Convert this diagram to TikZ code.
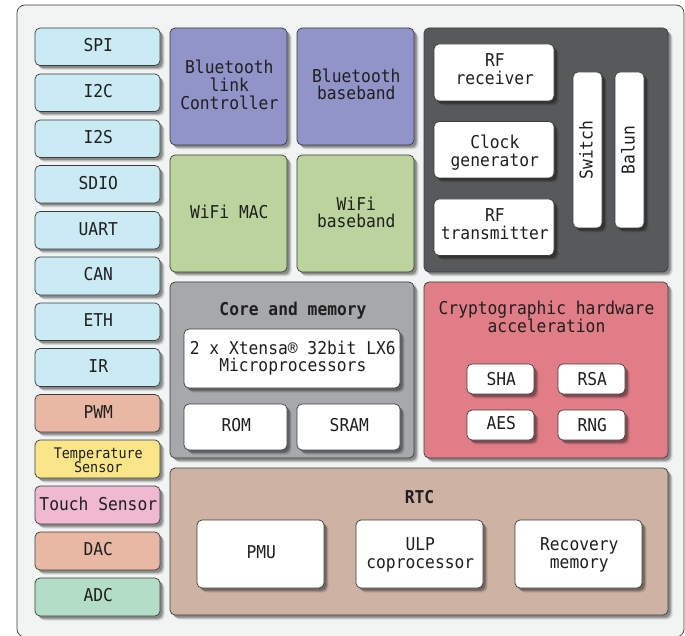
\documentclass[tikz,border=0pt]{standalone}
\usepackage{fontspec}
\setmainfont[FakeStretch=0.92]{DejaVu Sans Mono}
\usetikzlibrary{shadows}
\definecolor{bgc}{HTML}{F2F4F3}
\definecolor{linec}{HTML}{3A3C3C}
\definecolor{cif}{HTML}{CAEAF4}
\definecolor{cbt}{HTML}{9194C8}
\definecolor{cwifi}{HTML}{BBD39C}
\definecolor{cdark}{HTML}{58595B}
\definecolor{ccore}{HTML}{A6A8AB}
\definecolor{ccrypto}{HTML}{E07D87}
\definecolor{crtc}{HTML}{CEB3A5}
\definecolor{cpwm}{HTML}{E9B8A4}
\definecolor{ctemp}{HTML}{FAE588}
\definecolor{ctouch}{HTML}{F0B9D2}
\definecolor{cadc}{HTML}{B3DDC5}
\newcommand{\mainsize}{\fontsize{17.7}{17.7}\selectfont}
\newcommand{\smallsize}{\fontsize{14.6}{14.2}\selectfont}
\tikzset{
  x=1pt,y=-1pt,
  blk/.style={draw=linec,line width=0.7pt,rounded corners=5pt,inner sep=0pt,
    drop shadow={shadow xshift=4.5pt,shadow yshift=-4.5pt,fill=black,opacity=0.10},
    drop shadow={shadow xshift=3.5pt,shadow yshift=-3.5pt,fill=black,opacity=0.15},
    drop shadow={shadow xshift=2.5pt,shadow yshift=-2.5pt,fill=black,opacity=0.25}},
  lbl/.style={inner sep=0pt,align=center,font=\mainsize,text=black!88},
  ttl/.style={lbl,font=\mainsize\bfseries},
  w/.style={fill=white},
}
% \bx[text y offset, px downward]{name}{x0}{y0}{x1}{y1}{style}{text}
\newcommand{\bx}[8][-1.5]{%
  \pgfmathsetmacro{\bw}{#5-(#3)}\pgfmathsetmacro{\bh}{#6-(#4)}%
  \node[blk,#7,minimum width=\bw pt,minimum height=\bh pt] (#2) at ({(#3+#5)/2},{(#4+#6)/2}) {};
  \node[lbl] (#2t) at ([xshift=0.8pt,yshift=-1pt*(#1)]#2.center) {#8};}
\begin{document}
\begin{tikzpicture}
\useasboundingbox (0,0) rectangle (685,636);
\node[draw=linec,line width=0.7pt,fill=bgc,rounded corners=8pt,minimum width=667pt,minimum height=632pt,inner sep=0pt] (outer) at (350.5,321) {};
% interface column
\bx{spi}{35}{28}{160}{65.5}{fill=cif}{SPI}
\bx{itc}{35}{74}{160}{111.5}{fill=cif}{I2C}
\bx{its}{35}{120}{160}{157.5}{fill=cif}{I2S}
\bx{sdio}{35}{165.5}{160}{203}{fill=cif}{SDIO}
\bx{uart}{35}{211.5}{160}{249}{fill=cif}{UART}
\bx{can}{35}{257}{160}{295}{fill=cif}{CAN}
\bx{eth}{35}{303}{160}{340.5}{fill=cif}{ETH}
\bx{ir}{35}{348.5}{160}{386.5}{fill=cif}{IR}
\bx{pwm}{35}{394.5}{160}{432}{fill=cpwm}{PWM}
\bx[1]{temp}{35}{440}{160}{478}{fill=ctemp}{\smallsize Temperature\\[-3.6pt]\smallsize Sensor}
\bx{touch}{35}{486}{160}{524}{fill=ctouch}{Touch Sensor}
\bx{dac}{35}{532}{160}{570}{fill=cpwm}{DAC}
\bx{adc}{35}{578}{160}{616}{fill=cadc}{ADC}
% bluetooth, wifi
\bx[-1.5]{btl}{170}{28}{287}{145}{fill=cbt}{Bluetooth\\link\\Controller}
\bx[-2]{btb}{297}{28}{414}{145}{fill=cbt}{Bluetooth\\baseband}
\bx[-2]{wmac}{170}{155}{287}{272}{fill=cwifi}{WiFi MAC}
\bx[-1]{wbb}{297}{155}{414}{272}{fill=cwifi}{WiFi\\baseband}
% radio
\bx[0]{radio}{424}{28}{668}{272}{fill=cdark}{}
\bx[-3]{rfr}{434}{44}{554}{101}{w}{RF\\receiver}
\bx[3]{clk}{434}{121.5}{554}{178}{w}{Clock\\generator}
\bx[-3]{rft}{434}{199}{554}{255.5}{w}{RF\\transmitter}
\bx[0]{sw}{573}{72}{602}{228}{w}{}
\bx[0]{bal}{615}{72}{644}{228}{w}{}
\node[lbl,rotate=90] (swt) at ([xshift=-1.5pt]sw.center) {Switch};
\node[lbl,rotate=90] (balt) at ([xshift=-1.5pt]bal.center) {Balun};
% core
\bx[0]{core}{170}{282}{414}{458}{fill=ccore}{}
\node[ttl] (coret) at (293,310.5) {Core and memory};
\bx[-0.5]{xt}{184}{329}{400}{388}{w}{2 x Xtensa® 32bit LX6\\Microprocessors}
\bx{rom}{184}{404}{287}{450}{w}{ROM}
\bx{sram}{297}{404}{400}{450}{w}{SRAM}
% crypto
\bx[0]{cry}{424}{282}{668}{458}{fill=ccrypto}{}
\node[lbl] (cryt) at (546.5,317) {Cryptographic hardware\\acceleration};
\bx[0]{sha}{467}{364}{534}{394}{w}{SHA}
\bx[0]{rsa}{558}{364}{625}{394}{w}{RSA}
\bx{aes}{467}{410}{534}{440}{w}{AES}
\bx[0]{rng}{558}{410}{625}{440}{w}{RNG}
% rtc
\bx[0]{rtc}{170}{468}{668}{615}{fill=crtc}{}
\node[ttl] (rtct) at (419.5,497) {RTC};
\bx{pmu}{197}{520}{324}{588}{w}{PMU}
\bx[1]{ulp}{356}{520}{483}{588}{w}{ULP\\coprocessor}
\bx[1]{rec}{515}{520}{642}{588}{w}{Recovery\\memory}
\end{tikzpicture}
\end{document}
